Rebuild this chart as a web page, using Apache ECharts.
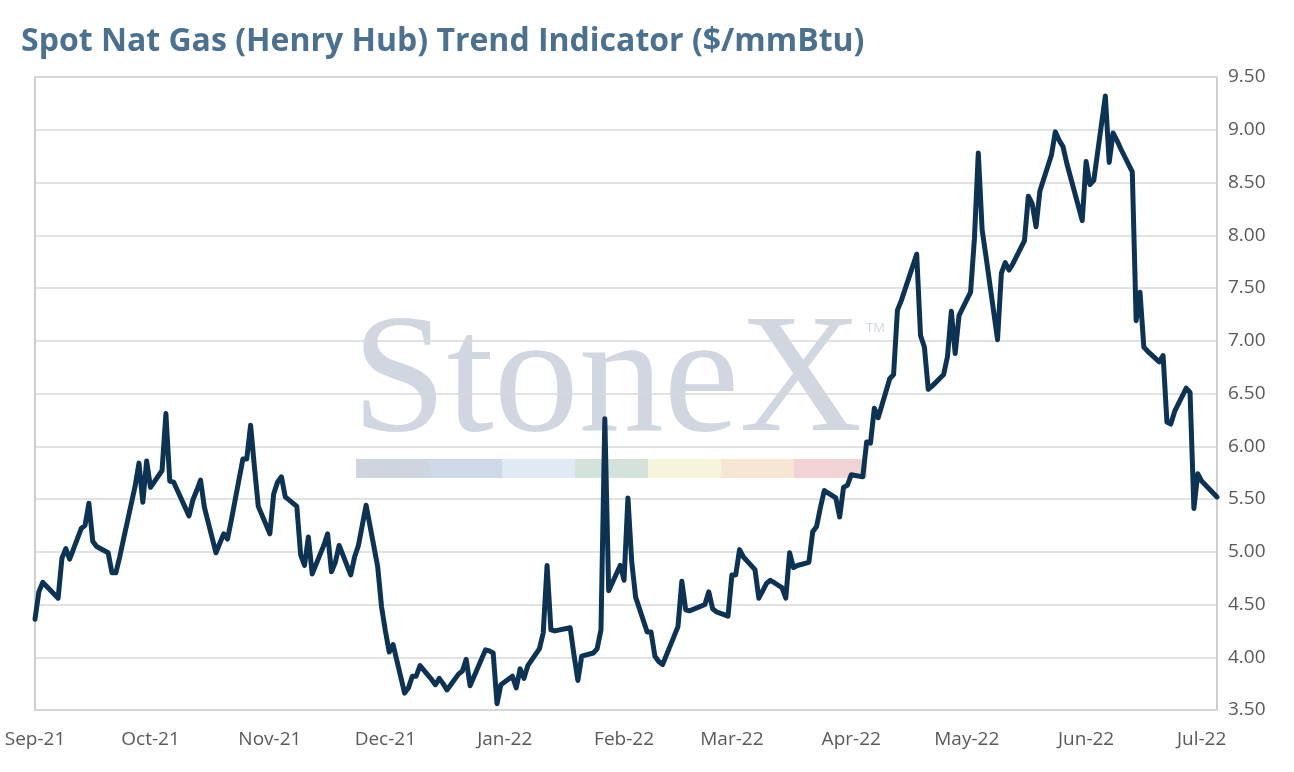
<!DOCTYPE html>
<html>
<head>
<meta charset="utf-8">
<title>Spot Nat Gas (Henry Hub) Trend Indicator</title>
<script src="https://cdn.jsdelivr.net/npm/echarts@6/dist/echarts.min.js"></script>
<style>
  html, body { margin: 0; padding: 0; background: #fff; }
  #chart { width: 1294px; height: 772px; }
</style>
</head>
<body>
<div id="chart"></div>
<script>
// Henry Hub spot price, business days Sep-21 .. Jul-22
var dates = [
  '2021-09-01','2021-09-02','2021-09-03','2021-09-07','2021-09-08','2021-09-09','2021-09-10',
  '2021-09-13','2021-09-14','2021-09-15','2021-09-16','2021-09-17','2021-09-20','2021-09-21',
  '2021-09-22','2021-09-23','2021-09-24','2021-09-27','2021-09-28','2021-09-29','2021-09-30',
  '2021-10-01','2021-10-04','2021-10-05','2021-10-06','2021-10-07','2021-10-08','2021-10-11',
  '2021-10-12','2021-10-13','2021-10-14','2021-10-15','2021-10-18','2021-10-19','2021-10-20',
  '2021-10-21','2021-10-22','2021-10-25','2021-10-26','2021-10-27','2021-10-28','2021-10-29',
  '2021-11-01','2021-11-02','2021-11-03','2021-11-04','2021-11-05','2021-11-08','2021-11-09',
  '2021-11-10','2021-11-11','2021-11-12','2021-11-15','2021-11-16','2021-11-17','2021-11-18',
  '2021-11-19','2021-11-22','2021-11-23','2021-11-24','2021-11-26','2021-11-29','2021-11-30',
  '2021-12-01','2021-12-02','2021-12-03','2021-12-06','2021-12-07','2021-12-08','2021-12-09',
  '2021-12-10','2021-12-13','2021-12-14','2021-12-15','2021-12-16','2021-12-17','2021-12-20',
  '2021-12-21','2021-12-22','2021-12-23','2021-12-27','2021-12-28','2021-12-29','2021-12-30',
  '2021-12-31','2022-01-03','2022-01-04','2022-01-05','2022-01-06','2022-01-07','2022-01-10',
  '2022-01-11','2022-01-12','2022-01-13','2022-01-14','2022-01-18','2022-01-19','2022-01-20',
  '2022-01-21','2022-01-24','2022-01-25','2022-01-26','2022-01-27','2022-01-28','2022-01-31',
  '2022-02-01','2022-02-02','2022-02-03','2022-02-04','2022-02-07','2022-02-08','2022-02-09',
  '2022-02-10','2022-02-11','2022-02-14','2022-02-15','2022-02-16','2022-02-17','2022-02-18',
  '2022-02-22','2022-02-23','2022-02-24','2022-02-25','2022-02-28','2022-03-01','2022-03-02',
  '2022-03-03','2022-03-04','2022-03-07','2022-03-08','2022-03-09','2022-03-10','2022-03-11',
  '2022-03-14','2022-03-15','2022-03-16','2022-03-17','2022-03-18','2022-03-21','2022-03-22',
  '2022-03-23','2022-03-24','2022-03-25','2022-03-28','2022-03-29','2022-03-30','2022-03-31',
  '2022-04-01','2022-04-04','2022-04-05','2022-04-06','2022-04-07','2022-04-08','2022-04-11',
  '2022-04-12','2022-04-13','2022-04-14','2022-04-18','2022-04-19','2022-04-20','2022-04-21',
  '2022-04-22','2022-04-25','2022-04-26','2022-04-27','2022-04-28','2022-04-29','2022-05-02',
  '2022-05-03','2022-05-04','2022-05-05','2022-05-06','2022-05-09','2022-05-10','2022-05-11',
  '2022-05-12','2022-05-13','2022-05-16','2022-05-17','2022-05-18','2022-05-19','2022-05-20',
  '2022-05-23','2022-05-24','2022-05-25','2022-05-26','2022-05-27','2022-05-31','2022-06-01',
  '2022-06-02','2022-06-03','2022-06-06','2022-06-07','2022-06-08','2022-06-09','2022-06-10',
  '2022-06-13','2022-06-14','2022-06-15','2022-06-16','2022-06-17','2022-06-20','2022-06-21',
  '2022-06-22','2022-06-23','2022-06-24','2022-06-27','2022-06-28','2022-06-29','2022-06-30',
  '2022-07-01','2022-07-05'
];
var prices = [
  4.36, 4.62, 4.71, 4.56, 4.94, 5.03, 4.93,
  5.22, 5.25, 5.46, 5.10, 5.05, 4.99, 4.80,
  4.80, 4.95, 5.12, 5.62, 5.84, 5.47, 5.86,
  5.61, 5.77, 6.31, 5.67, 5.66, 5.58, 5.34,
  5.49, 5.58, 5.68, 5.42, 4.99, 5.08, 5.17,
  5.12, 5.30, 5.88, 5.88, 6.20, 5.80, 5.43,
  5.17, 5.55, 5.66, 5.71, 5.52, 5.43, 4.97,
  4.87, 5.14, 4.79, 5.06, 5.17, 4.81, 4.90,
  5.06, 4.78, 4.95, 5.06, 5.44, 4.86, 4.48,
  4.25, 4.05, 4.12, 3.66, 3.71, 3.82, 3.82,
  3.92, 3.79, 3.74, 3.80, 3.75, 3.69, 3.84,
  3.87, 3.98, 3.73, 4.07, 4.06, 4.04, 3.56,
  3.74, 3.82, 3.71, 3.89, 3.80, 3.92, 4.08,
  4.23, 4.87, 4.26, 4.25, 4.28, 4.02, 3.78,
  4.01, 4.04, 4.08, 4.26, 6.26, 4.63, 4.87,
  4.73, 5.51, 4.90, 4.57, 4.24, 4.24, 4.01,
  3.96, 3.93, 4.20, 4.29, 4.72, 4.45, 4.44,
  4.50, 4.62, 4.46, 4.43, 4.39, 4.78, 4.78,
  5.02, 4.95, 4.83, 4.56, 4.63, 4.70, 4.73,
  4.66, 4.56, 4.99, 4.85, 4.87, 4.90, 5.19,
  5.24, 5.42, 5.58, 5.51, 5.33, 5.61, 5.63,
  5.73, 5.71, 6.04, 6.03, 6.36, 6.27, 6.64,
  6.68, 7.29, 7.38, 7.82, 7.05, 6.94, 6.54,
  6.57, 6.68, 6.85, 7.28, 6.88, 7.24, 7.46,
  7.97, 8.78, 8.05, 7.80, 7.01, 7.64, 7.74,
  7.67, 7.73, 7.95, 8.37, 8.30, 8.08, 8.42,
  8.76, 8.98, 8.90, 8.84, 8.68, 8.14, 8.70,
  8.48, 8.52, 9.32, 8.69, 8.97, 8.90, 8.82,
  8.60, 7.19, 7.46, 6.94, 6.90, 6.80, 6.86,
  6.23, 6.21, 6.33, 6.55, 6.51, 5.41, 5.74,
  5.67, 5.52
];
var monthNames = ['Jan','Feb','Mar','Apr','May','Jun','Jul','Aug','Sep','Oct','Nov','Dec'];
var yMin = 3.5, yMax = 9.5, yStep = 0.5;
var DAY = 24 * 3600 * 1000;

// 'YYYY-MM-DD' -> local timestamp
function toTime(s) {
  var p = s.split('-');
  return new Date(+p[0], +p[1] - 1, +p[2]).getTime();
}

var seriesData = dates.map(function(d, i) {
  return [toTime(d), prices[i]];
});

var myChart = echarts.init(document.getElementById('chart'));

// StoneX watermark bar colours
var barColors = ['#cfd5de', '#cdd9e6', '#dfeaf4', '#d3e3da', '#f6f5dc', '#f7e6d2', '#f1d3d5'];
var barGraphics = barColors.map(function(c, i) {
  return {
    type: 'rect', z: -10, silent: true,
    shape: { x: 356 + i * 73, y: 459, width: 73, height: 19 },
    style: { fill: c }
  };
});

var option = {
  animation: false,
  backgroundColor: '#fff',
  title: {
    text: 'Spot Nat Gas (Henry Hub) Trend Indicator ($/mmBtu)',
    left: 16, top: 21,
    textStyle: {
      fontFamily: 'Open Sans', fontWeight: 'bold', fontSize: 32, color: '#4b7190'
    }
  },
  grid: {
    left: 35, right: 77, top: 77, bottom: 62,
    show: true, borderColor: '#bfbfbf', borderWidth: 1.5
  },
  graphic: [{
    type: 'text', z: -10, silent: true,
    left: 352, top: 300,
    style: {
      text: 'StoneX', fill: '#d0d7e0',
      font: '170px "Liberation Serif", "DejaVu Serif", serif'
    }
  }, {
    type: 'text', z: -10, silent: true,
    left: 866, top: 322,
    style: { text: 'TM', fill: '#d0d7e0', font: '13px "Open Sans", sans-serif' }
  }].concat(barGraphics),
  xAxis: {
    type: 'time',
    min: toTime(dates[0]),
    max: toTime(dates[dates.length - 1]),
    minInterval: 28 * DAY,
    maxInterval: 31 * DAY,
    axisLine: { show: false },
    axisTick: { show: false },
    splitLine: { show: false },
    axisLabel: {
      color: '#595959', fontFamily: 'Open Sans', fontSize: 19, margin: 20,
      showMinLabel: true, hideOverlap: false,
      formatter: function(v) {
        var d = new Date(v);
        return monthNames[d.getMonth()] + '-' + String(d.getFullYear()).slice(2);
      }
    }
  },
  yAxis: {
    type: 'value',
    position: 'right',
    min: yMin, max: yMax, interval: yStep,
    axisLine: { show: false },
    axisTick: { show: false },
    splitLine: { lineStyle: { color: '#d9d9d9', width: 1.5 } },
    axisLabel: {
      color: '#595959', fontFamily: 'Open Sans', fontSize: 19, margin: 11,
      formatter: function(v) { return v.toFixed(2); }
    }
  },
  series: [{
    type: 'line',
    z: 5,
    data: seriesData,
    showSymbol: false,
    smooth: false,
    lineStyle: { color: '#0d3354', width: 5, cap: 'round', join: 'round' }
  }]
};

myChart.setOption(option);
</script>
</body>
</html>
